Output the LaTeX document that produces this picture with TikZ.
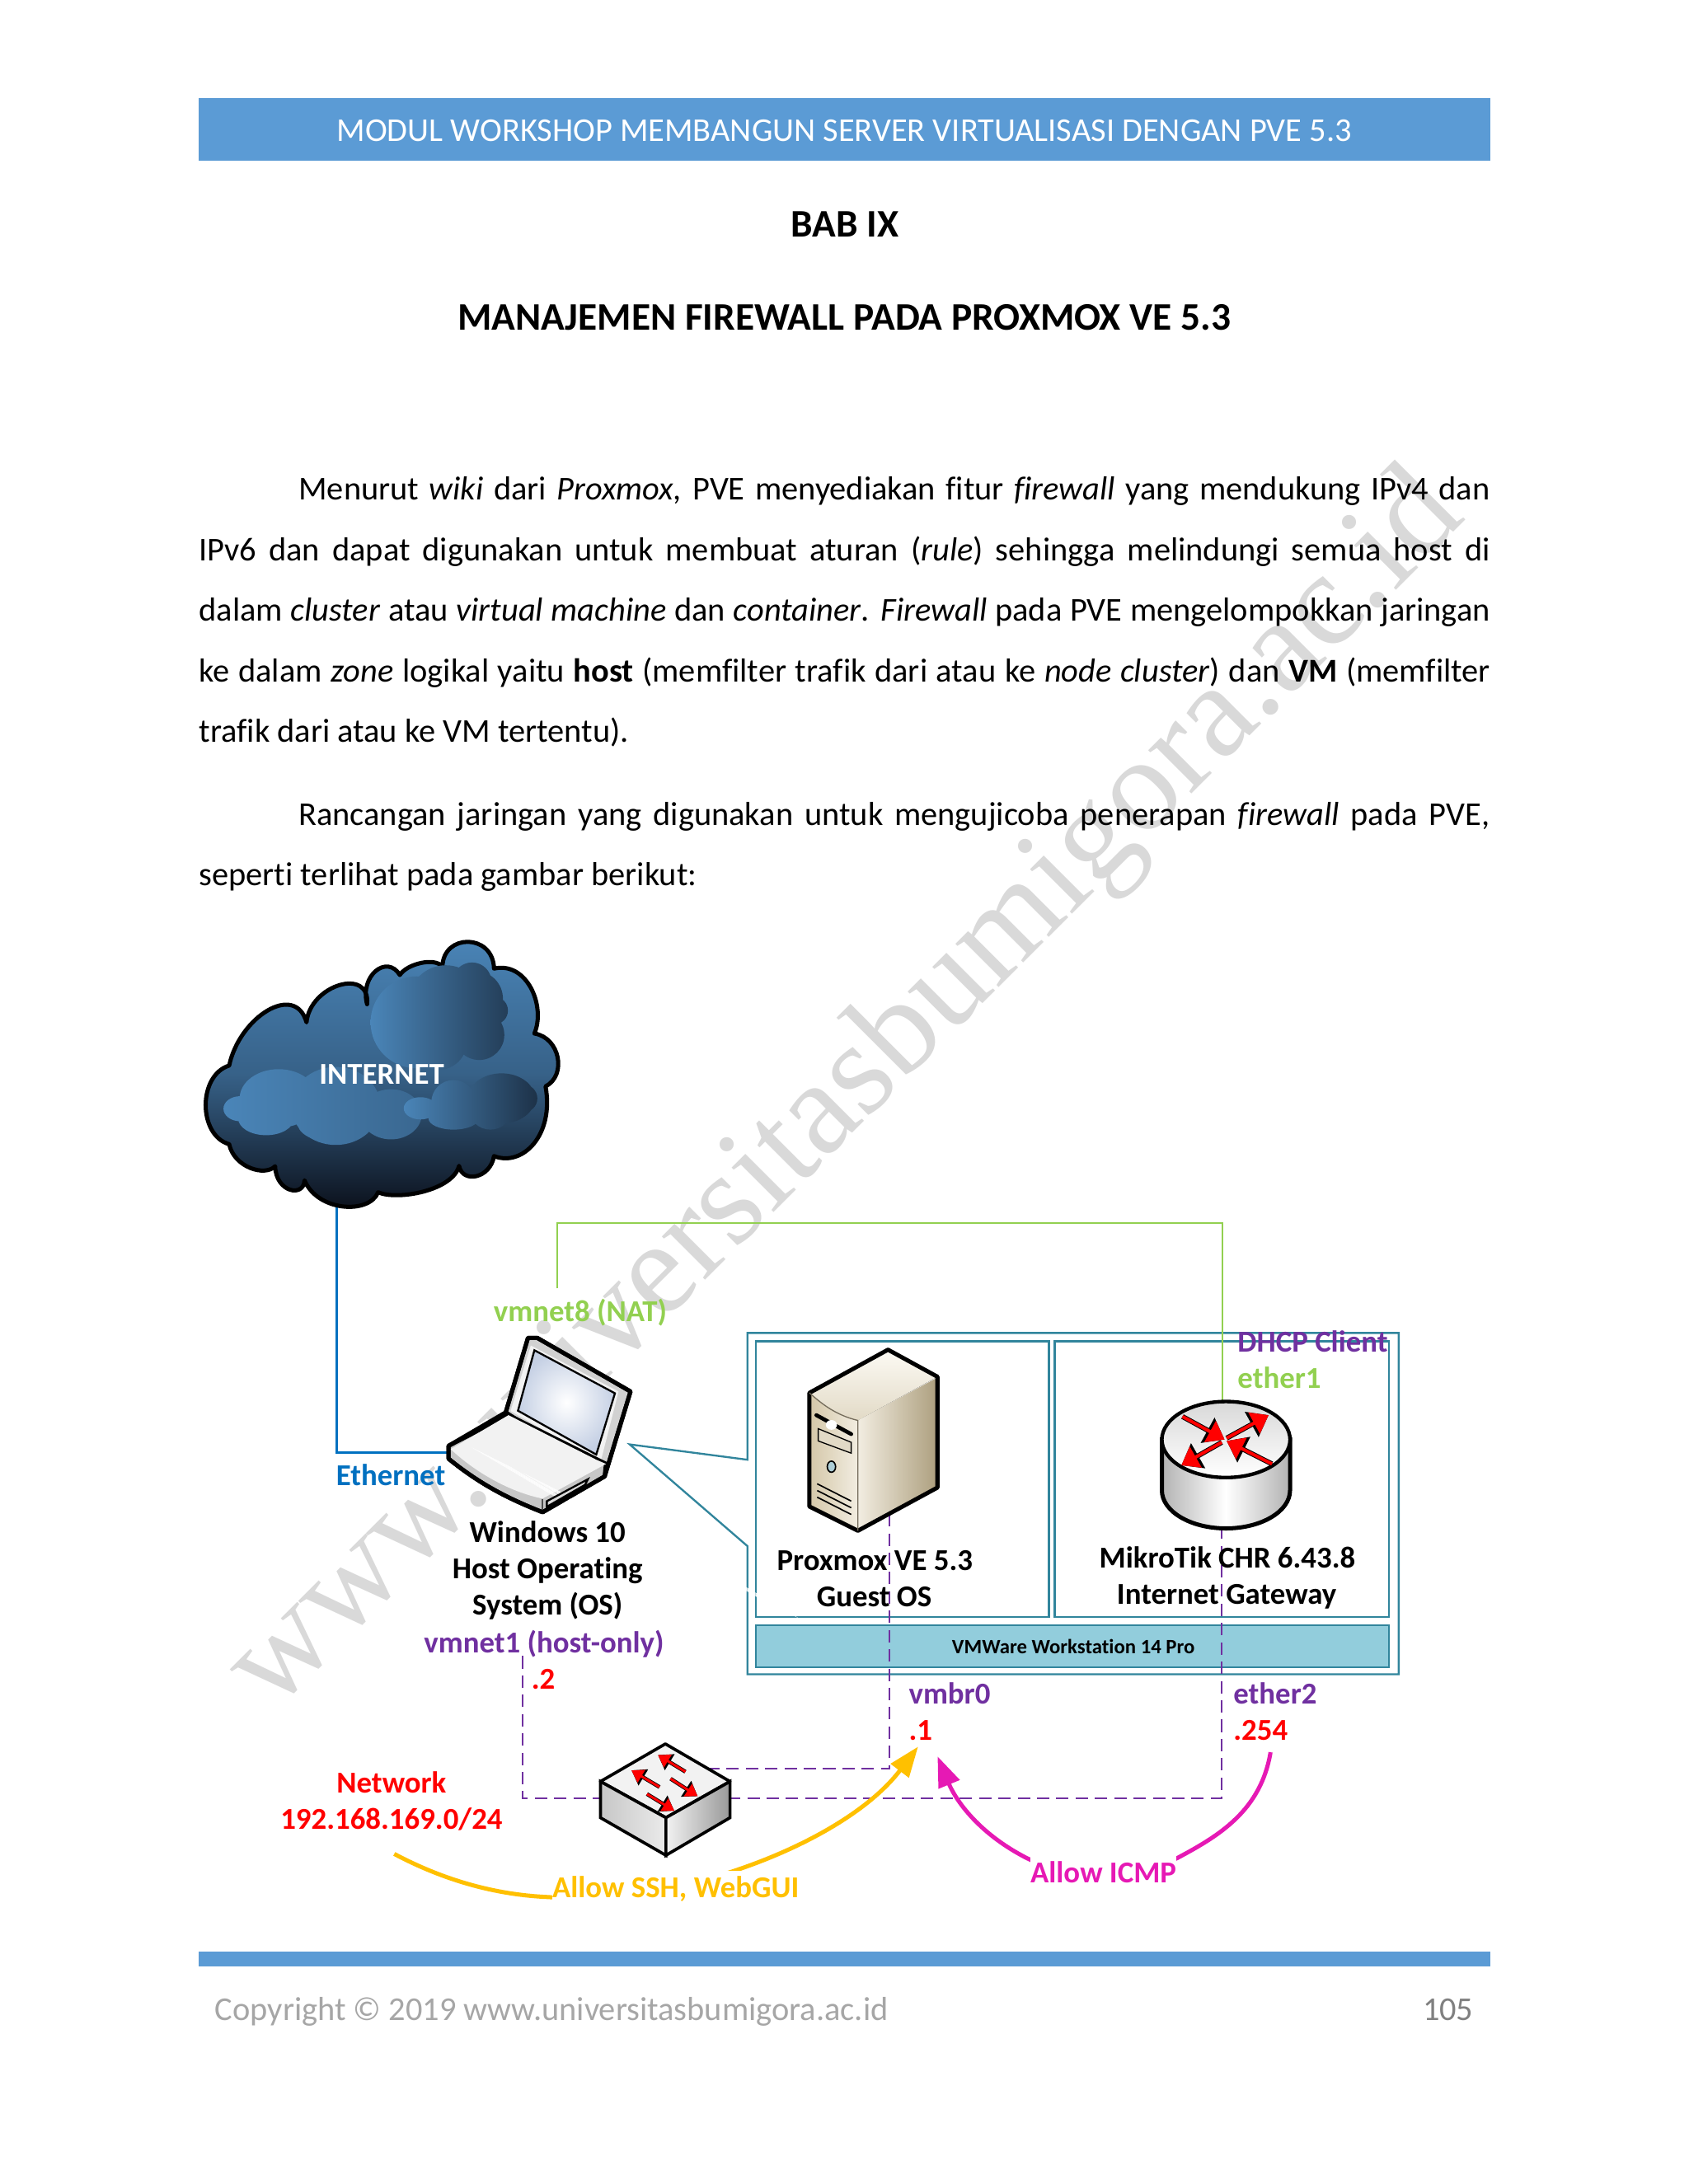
\documentclass[tikz,border=0pt]{standalone}
\usepackage{fontspec}
\setmainfont[Ligatures=NoCommon]{Carlito}
\newfontfamily\markfont{Liberation Serif}
\usetikzlibrary{arrows.meta,calc}
\definecolor{barblue}{HTML}{5B9BD5}
\definecolor{netblue}{HTML}{0070C0}
\definecolor{natgreen}{HTML}{92D050}
\definecolor{hostpurple}{HTML}{7030A0}
\definecolor{boxteal}{HTML}{31859C}
\definecolor{barteal}{HTML}{92CDDC}
\definecolor{sshyellow}{HTML}{FFC000}
\definecolor{icmppink}{HTML}{E619B4}
\definecolor{cloudlight}{HTML}{4A85B8}
\definecolor{clouddark}{HTML}{0A0E18}
\definecolor{servertop}{HTML}{FCFAF4}
\definecolor{serverlow}{HTML}{E2DAC6}
\definecolor{serverfront}{HTML}{D4C7A8}
\definecolor{serverpale}{HTML}{F2EDE1}
\definecolor{serverside}{HTML}{AD9F7E}
\definecolor{screenblue}{HTML}{C5D0E4}
\tikzset{
  x=0.50495pt,y=-0.50495pt,
  label/.style={inner sep=0pt,anchor=base,font=\fontsize{11}{13}\selectfont\bfseries},
  labelleft/.style={label,anchor=base west},
  bodyline/.style={inner sep=0pt,anchor=base west,font=\fontsize{12.07}{14}\selectfont},
  ethline/.style={netblue,line width=0.8pt},
  natline/.style={natgreen,line width=0.7pt},
  hostline/.style={hostpurple,line width=0.65pt,dash pattern=on 4.5pt off 2.5pt},
  tealbox/.style={draw=boxteal,line width=0.7pt},
  outline/.style={draw=black,line width=1.5pt,line join=round},
  sshline/.style={sshyellow,line width=1.5pt,-{Triangle[length=11pt,width=8pt]}},
  icmpline/.style={icmppink,line width=1.5pt,-{Triangle[length=11pt,width=8pt]}}
}
\begin{document}
\begin{tikzpicture}
  \useasboundingbox (0,0) rectangle (1212,1568);
  \fill[white] (0,0) rectangle (1212,1568);
  \node[rotate=45,text=black!15,font=\markfont\fontsize{48.25}{50}\selectfont,inner sep=0pt] (watermark) at (608.5,785) {www.universitasbumigora.ac.id};

  \fill[barblue] (142.5,70.5) rectangle (1069.5,115.5);
  \node[bodyline,anchor=base,text=white] (header) at (606,101.5) {MODUL WORKSHOP MEMBANGUN SERVER VIRTUALISASI DENGAN PVE 5.3};
  \node[label,font=\fontsize{14.15}{16}\selectfont\bfseries] (chapter) at (606.5,170) {BAB IX};
  \node[label,font=\fontsize{14.15}{16}\selectfont\bfseries] (title) at (606,237) {MANAJEMEN FIREWALL PADA PROXMOX VE 5.3};

  \node[bodyline] (line1) at (214,359) {\makebox[431.7pt][s]{Menurut \textit{wiki} dari \textit{Proxmox}, PVE menyediakan fitur \textit{firewall} yang mendukung IPv4 dan}};
  \node[bodyline] (line2) at (142.5,402.5) {\makebox[468pt][s]{IPv6 dan dapat digunakan untuk membuat aturan (\textit{rule}) sehingga melindungi semua host di}};
  \node[bodyline] (line3) at (142.5,446) {\makebox[468pt][s]{dalam \textit{cluster} atau \textit{virtual machine} dan \textit{container}. \textit{Firewall} pada PVE mengelompokkan jaringan}};
  \node[bodyline] (line4) at (142.5,489.5) {\makebox[468pt][s]{ke dalam \textit{zone} logikal yaitu \textbf{host} (memfilter trafik dari atau ke \textit{node cluster}) dan \textbf{VM} (memfilter}};
  \node[bodyline] (line5) at (142.5,533) {trafik dari atau ke VM tertentu).};
  \node[bodyline] (line6) at (214,592.5) {\makebox[431.7pt][s]{Rancangan jaringan yang digunakan untuk mengujicoba penerapan \textit{firewall} pada PVE,}};
  \node[bodyline] (line7) at (142.5,636) {seperti terlihat pada gambar berikut:};

  \fill[barblue] (142.5,1401) rectangle (1069.5,1412);
  \node[bodyline,text=black!35] (copyright) at (154,1450.5) {Copyright © 2019 www.universitasbumigora.ac.id};
  \node[bodyline,anchor=base east,text=black!50] (pagenum) at (1058,1450.5) {105};

  \coordinate (cloudbot) at (241.6,866);
  \coordinate (laptopleft) at (322,1043);
  \coordinate (laptoptop) at (400,925);
  \coordinate (natleft) at (400,878);
  \coordinate (natright) at (877.5,878);
  \coordinate (routertop) at (877.5,1007);
  \coordinate (routerbot) at (877,1098);
  \coordinate (serverbot) at (638.5,1087);
  \coordinate (switchright) at (508,1270);
  \coordinate (hostend) at (375,1189);
  \coordinate (hostleft) at (375,1291);
  \coordinate (hostright) at (877,1291);
  \coordinate (sshfrom) at (283,1331);
  \coordinate (sshto) at (659,1254);
  \coordinate (icmpfrom) at (912,1258);
  \coordinate (icmpto) at (673,1261);

  \draw[ethline] (cloudbot) |- (laptopleft);

  \draw[outline,top color=cloudlight,bottom color=clouddark,middle color=cloudlight!70!clouddark]
    (164.5,765) .. controls (172,730) and (212,705) .. (220,734)
    .. controls (222.6,707) and (266,694) .. (263.5,721)
    .. controls (258,700) and (278,685) .. (287,700)
    .. controls (292,692) and (312,687) .. (317.6,694)
    .. controls (318,670) and (354,670) .. (354.6,695.4)
    .. controls (378,690) and (392,722) .. (383.6,742)
    .. controls (402,745) and (407,772) .. (391.6,780)
    .. controls (398,815) and (375,838) .. (354.6,830)
    .. controls (352,846) and (332,850) .. (329.5,837)
    .. controls (325,855) and (285,862) .. (271.4,856)
    .. controls (265,872) and (228,870) .. (218.6,847.4)
    .. controls (218,860) and (198,856) .. (197.5,837.3)
    .. controls (190,845) and (168,838) .. (164.5,821.5)
    .. controls (142,815) and (142,772) .. cycle;
  \shade[left color=cloudlight,right color=clouddark!60!cloudlight]
    (299,734) circle (33) (320,720) circle (27) (338.8,705) circle (14) (341,717) circle (20)
    (354.6,725.5) circle (10) (344,743) circle (18) (315,748) circle (20);
  \shade[left color=cloudlight,right color=clouddark!25!cloudlight]
    (200,788.6) ellipse (28 and 21) (241,794) ellipse (32 and 28) (238.4,806) ellipse (25 and 14)
    (172.4,796) ellipse (12 and 9) (191,803) ellipse (20 and 12) (280.7,800) ellipse (22 and 18);
  \shade[left color=cloudlight,right color=clouddark!70!cloudlight]
    (301.8,795.7) ellipse (12 and 8) (325.6,791.4) circle (16) (325.6,803) ellipse (18 and 8)
    (360,788.6) ellipse (24 and 18) (352,797) ellipse (15 and 14) (375.7,788.6) circle (10);
  \node[label,text=white] (internet) at (274,778.5) {INTERNET};

  \draw[tealbox,fill=white] (536.5,957) -- (1004,957) -- (1004,1202) -- (536.5,1202) -- (536.5,1110) -- (452,1037) -- (536.5,1048) -- cycle;
  \draw[tealbox] (542.5,963) rectangle (753,1161);
  \draw[tealbox] (757,963) rectangle (997,1161);
  \draw[tealbox,fill=barteal] (542.5,1167) rectangle (997,1197);
  \node[label,font=\fontsize{7.4}{9}\selectfont\bfseries] (vmware) at (770.5,1187.5) {VMWare Workstation 14 Pro};

  \draw[natline] (laptoptop) -- (natleft) -- (natright) -- (routertop);
  \draw[hostline] (serverbot) |- (switchright);
  \draw[hostline] (hostend) -- (hostleft) -- (hostright) -- (routerbot);

  \draw[outline,fill=black!18] (379,960.5) -- (385.6,960.5) -- (452.6,999) -- (434,1060) -- (363,1014) -- cycle;
  \fill[black!5] (381,966) -- (444,999) -- (431,1050) -- (366.5,1013) -- cycle;
  \shade[inner color=white,outer color=screenblue,draw=black,line width=0.7pt] (383.6,969.4) -- (441.4,1000.3) -- (428,1044.3) -- (371.8,1012.8) -- cycle;
  \draw[outline,fill=black!22] (322,1038) -- (322,1047.3) .. controls (345,1066) and (365,1076) .. (389.5,1085.7) -- (434,1060) -- (435,1051) -- (365,1016) -- cycle;
  \fill[black!5] (323.5,1040.4) -- (365,1016) -- (428,1048) -- (435,1051) -- (389.5,1075.9) .. controls (365,1071) and (340,1056) .. cycle;
  \draw[black,line width=0.9pt] (322,1038) -- (364,1014);
  \draw[black!70,line width=0.5pt] (389.5,1076) -- (389.5,1085.7);
  \begin{scope}[shift={(333.5,1036.6)},x={(6.07,3.59)},y={(6.06,-3.42)}]
    \foreach \i in {0,...,9}
      \foreach \j in {0,...,4}
        \fill[white] (\i+.12,\j+.12) -- (\i+.88,\j+.12) -- (\i+.88,\j+.88) -- (\i+.12,\j+.88) -- cycle;
  \end{scope}
  \draw[black,line width=0.7pt,fill=black!15] (392.5,1077.8) -- (422,1062) -- (420,1066) -- (392.5,1081.8) -- cycle;
  \draw[outline] (322,1038) -- (322,1047.3) .. controls (345,1066) and (365,1076) .. (389.5,1085.7) -- (434,1060) -- (452.6,999) -- (385.6,960.5) -- (379,960.5) -- (363,1014) -- cycle;

  \fill[top color=servertop,bottom color=serverlow] (637.4,969) -- (672.9,988.4) -- (615.8,1019.8) .. controls (600,1016) and (590,1008) .. (581,1000) -- cycle;
  \shade[left color=serverfront,right color=serverpale] (581,1000) .. controls (590,1008) and (600,1016) .. (615.8,1019.8) -- (615.8,1099) -- (581,1081.6) -- cycle;
  \shade[left color=serverpale,right color=serverside] (615.8,1019.8) -- (672.9,989) -- (672.9,1068) -- (615.8,1099) -- cycle;
  \draw[outline] (637.4,969) -- (672.9,988.4) -- (672.9,1068) -- (615.8,1099) -- (581,1081.6) -- (581,1000) -- cycle;
  \draw[black!45!serverfront,line width=0.4pt] (581,1000) .. controls (590,1008) and (600,1016) .. (615.8,1019.8) -- (615.8,1099);
  \draw[black,line width=1.4pt,line cap=round] (586,1016) -- (611,1029.6);
  \fill[white] (596.8,1023) ellipse (4 and 3.5);
  \draw[black,fill=serverlow,line width=0.4pt] (587.3,1025.7) -- (611,1035.5) -- (611,1043.3) -- (587.3,1034.5) -- cycle;
  \draw[black,fill=boxteal!40,line width=0.5pt] (596.8,1053) ellipse (3 and 4);
  \foreach \ventshift in {0,4.8,9.6}
    \draw[black,line width=0.5pt] (586.6,1065.3+\ventshift) -- (611,1077.7+\ventshift);

  \shade[left color=black!30,right color=black!30,middle color=white,draw=black,line width=1.5pt] (834,1033.5) -- (834,1070) arc[start angle=180,end angle=360,x radius=46,y radius=-27.3] -- (926,1033.5) -- cycle;
  \draw[outline,line width=1.3pt,top color=black!15,bottom color=white] (880,1033.5) ellipse (46 and 27.3);
  \foreach \tailx/\taily/\tipx/\tipy in {848.8/1017/879/1033.5,880.5/1032.5/910.6/1016,877/1035.5/848/1052,913/1051/880.5/1034.5}{
    \draw[black,line width=1.8pt,-{Triangle[length=7pt,width=10pt]}] (\tailx,\taily) -- (\tipx,\tipy);
    \draw[red,line width=1.2pt,-{Triangle[length=6pt,width=8.5pt]}] (\tailx,\taily) -- (\tipx,\tipy);
  }

  \draw[outline,line width=1.1pt,fill=black!5] (477.6,1252) -- (524,1279) -- (478,1305) -- (431,1279) -- cycle;
  \shade[left color=black!22,right color=black!8,draw=black,line width=1.1pt] (431,1279) -- (478,1305) -- (478,1332) -- (431,1305) -- cycle;
  \shade[left color=black!5,right color=black!40,draw=black,line width=1.1pt] (524,1279) -- (478,1305) -- (478,1332) -- (524,1305) -- cycle;
  \foreach \tailx/\taily/\tipx/\tipy in {492/1272/472.3/1260,473.4/1283/453.3/1271,481.3/1277/500.8/1289.6,464.4/1288/484/1300}{
    \draw[black,line width=1.4pt,-{Triangle[length=5pt,width=6.5pt]}] (\tailx,\taily) -- (\tipx,\tipy);
    \draw[red,line width=0.9pt,-{Triangle[length=4.2pt,width=5.2pt]}] (\tailx,\taily) -- (\tipx,\tipy);
  }

  \draw[sshline] (sshfrom) .. controls (330,1356) and (370,1361) .. (394,1362) .. controls (480,1370) and (605,1325) .. (sshto);
  \draw[icmpline] (icmpfrom) .. controls (905,1300) and (875,1318) .. (845,1334) .. controls (810,1350) and (770,1350) .. (737,1334) .. controls (700,1315) and (685,1290) .. (icmpto);

  \node[label,text=natgreen] (vmnet8) at (416.5,948.5) {vmnet8 (NAT)};
  \node[label,text=netblue] (ethernet) at (280.5,1066.5) {Ethernet};
  \node[label] (winname) at (393,1107.5) {Windows 10};
  \node[label] (winhost) at (393,1133.5) {Host Operating};
  \node[label] (winsys) at (393,1159.5) {System (OS)};
  \node[label,text=hostpurple] (vmnet1) at (390.5,1186.5) {vmnet1 (host-only)};
  \node[label,text=red] (hostip) at (390,1212.5) {.2};
  \node[label] (proxname) at (628,1127.5) {Proxmox VE 5.3};
  \node[label] (proxguest) at (627.5,1153.5) {Guest OS};
  \node[label] (mikroname) at (881,1125.5) {MikroTik CHR 6.43.8};
  \node[label] (mikrogate) at (880.5,1151.5) {Internet Gateway};
  \node[labelleft,text=hostpurple] (dhcp) at (888,970.5) {DHCP Client};
  \node[labelleft,text=natgreen] (ether1) at (888,996.5) {ether1};
  \node[labelleft,text=hostpurple] (vmbr0) at (652,1223.5) {vmbr0};
  \node[labelleft,text=red] (vmbrip) at (652,1249.5) {.1};
  \node[labelleft,text=hostpurple] (ether2) at (885,1223.5) {ether2};
  \node[labelleft,text=red] (etherip) at (885,1249.5) {.254};
  \node[label,text=red] (network) at (281,1287.5) {Network};
  \node[label,text=red] (subnet) at (281,1313.5) {192.168.169.0/24};
  \node[label,text=sshyellow,fill=white,inner xsep=0pt,inner ysep=2pt] (allowssh) at (485,1362.5) {Allow SSH, WebGUI};
  \node[label,text=icmppink,fill=white,inner xsep=0pt,inner ysep=2pt] (allowicmp) at (792,1351.5) {Allow ICMP};
\end{tikzpicture}
\end{document}
